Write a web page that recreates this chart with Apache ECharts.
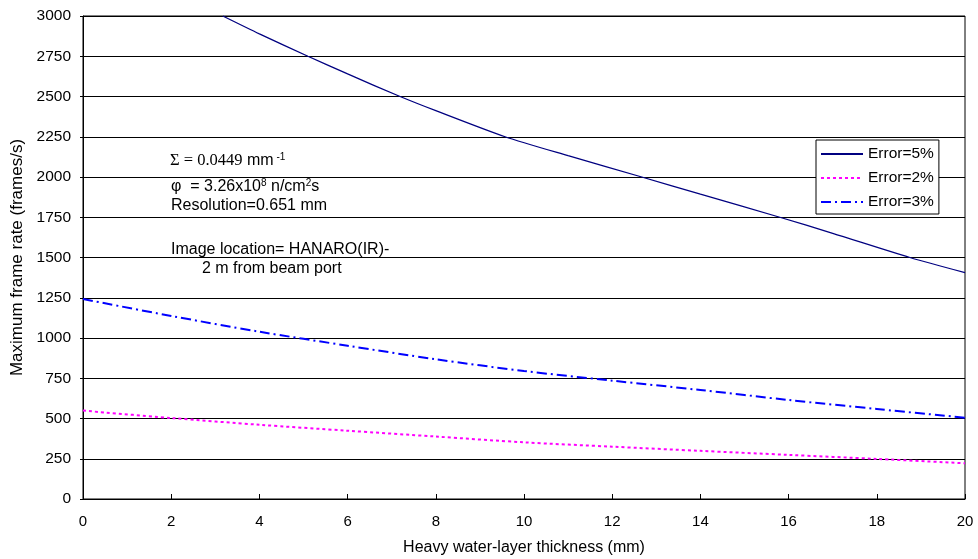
<!DOCTYPE html>
<html>
<head>
<meta charset="utf-8">
<script src="https://cdn.jsdelivr.net/npm/echarts@6/dist/echarts.min.js"></script>
<style>
html,body{margin:0;padding:0;background:#fff;}
#chart{width:978px;height:559px;}
</style>
</head>
<body>
<div id="chart"></div>
<script>
// ---- data ----
const xTicks = [0, 2, 4, 6, 8, 10, 12, 14, 16, 18, 20];
const yTicks = [0, 250, 500, 750, 1000, 1250, 1500, 1750, 2000, 2250, 2500, 2750, 3000];

const x5 = [3.17, 4, 5.1, 6, 7.19, 8, 9.57, 11, 12.67, 14, 15.8, 17, 18.75, 20];
const err5 = [3000, 2889, 2750, 2640, 2500, 2412, 2250, 2132, 2000, 1893, 1750, 1650, 1500, 1406];

const x2 = [0, 2, 4, 6, 8, 10, 12, 14, 16, 18, 20];
const err2 = [549, 503, 461, 424, 388, 352, 325, 299, 274, 249, 222];

const x3 = [0, 2, 4, 6, 8, 10, 12, 14, 16, 18, 20];
const err3 = [1242, 1137, 1039, 952, 868, 795, 735, 677, 615, 559, 505];

const seriesNames = ['Error=5%', 'Error=2%', 'Error=3%'];

function pairs(xs, ys) { return xs.map((x, i) => [x, ys[i]]); }

const SANS = "'Liberation Sans', Arial, sans-serif";
const SERIF = "'Liberation Serif', 'Times New Roman', serif";

const chart = echarts.init(document.getElementById('chart'), null, {renderer: 'canvas'});
chart.setOption({
  backgroundColor: '#fff',
  animation: false,
  grid: {
    left: 83, right: 13, top: 16, bottom: 60, containLabel: false, outerBoundsMode: 'none',
    show: true, borderColor: '#000', borderWidth: 1, backgroundColor: 'transparent'
  },
  xAxis: {
    type: 'value', min: xTicks[0], max: xTicks[xTicks.length - 1], interval: 2,
    name: 'Heavy water-layer thickness (mm)', nameLocation: 'middle', nameGap: 41,
    nameTextStyle: {fontFamily: SANS, fontSize: 16, color: '#000'},
    axisLine: {show: true, lineStyle: {color: '#000', width: 1}},
    axisTick: {show: true, inside: true, length: 5, lineStyle: {color: '#000'}},
    axisLabel: {fontFamily: SANS, fontSize: 15, color: '#000', margin: 15, formatter: v => String(v)},
    splitLine: {show: false}
  },
  yAxis: {
    type: 'value', min: yTicks[0], max: yTicks[yTicks.length - 1], interval: 250,
    name: 'Maximum frame rate (frames/s)', nameLocation: 'middle', nameGap: 56,
    nameTextStyle: {fontFamily: SANS, fontSize: 17, color: '#000'},
    axisLine: {show: true, lineStyle: {color: '#000', width: 1}},
    axisTick: {show: true, inside: false, length: 3, lineStyle: {color: '#000'}},
    axisLabel: {fontFamily: SANS, fontSize: 15.5, color: '#000', margin: 12, formatter: v => String(v)},
    splitLine: {show: true, lineStyle: {color: '#000', width: 1}}
  },
  legend: {
    orient: 'vertical', left: 816, top: 140,
    padding: [6, 5, 4, 4], itemGap: 8, itemWidth: 42, itemHeight: 14,
    backgroundColor: '#fff', borderColor: '#000', borderWidth: 1, borderRadius: 0,
    itemStyle: {opacity: 0},
    textStyle: {fontFamily: SANS, fontSize: 15.5, color: '#000'},
    data: seriesNames
  },
  series: [
    {
      name: seriesNames[0], type: 'line', data: pairs(x5, err5), symbol: 'none', smooth: 0.25,
      lineStyle: {color: '#000080', width: 1.3, type: 'solid'}, itemStyle: {color: '#000080'}
    },
    {
      name: seriesNames[1], type: 'line', data: pairs(x2, err2), symbol: 'none', smooth: 0.3,
      lineStyle: {color: '#FF00FF', width: 2, type: [3, 3]}, itemStyle: {color: '#FF00FF'}
    },
    {
      name: seriesNames[2], type: 'line', data: pairs(x3, err3), symbol: 'none', smooth: 0.3,
      lineStyle: {color: '#0000FF', width: 2, type: [10, 4, 2, 4]}, itemStyle: {color: '#0000FF'}
    }
  ],
  graphic: [
    {
      type: 'text', x: 170, y: 161,
      style: {
        text: '{s|Σ = 0.0449}{a| mm}{sup| -1}',
        verticalAlign: 'middle',
        rich: {
          s: {fontFamily: SERIF, fontSize: 16.5, fill: '#000', lineHeight: 18},
          a: {fontFamily: SANS, fontSize: 16, fill: '#000', lineHeight: 18},
          sup: {fontFamily: SANS, fontSize: 10, fill: '#000', lineHeight: 10, verticalAlign: 'top'}
        }
      }
    },
    {
      type: 'text', x: 171, y: 187,
      style: {
        text: '{a|φ  = 3.26x10}{sup|8}{a| n/cm}{sup|2}{a|s}',
        verticalAlign: 'middle',
        rich: {
          a: {fontFamily: SANS, fontSize: 16, fill: '#000', lineHeight: 18},
          sup: {fontFamily: SANS, fontSize: 10, fill: '#000', lineHeight: 10, verticalAlign: 'top'}
        }
      }
    },
    {
      type: 'text', x: 171, y: 206,
      style: {text: 'Resolution=0.651 mm', fontFamily: SANS, fontSize: 16, fill: '#000', verticalAlign: 'middle'}
    },
    {
      type: 'text', x: 171, y: 250,
      style: {text: 'Image location= HANARO(IR)-', fontFamily: SANS, fontSize: 16, fill: '#000', verticalAlign: 'middle'}
    },
    {
      type: 'text', x: 202, y: 269,
      style: {text: '2 m from beam port', fontFamily: SANS, fontSize: 16, fill: '#000', verticalAlign: 'middle'}
    }
  ]
});
</script>
</body>
</html>
